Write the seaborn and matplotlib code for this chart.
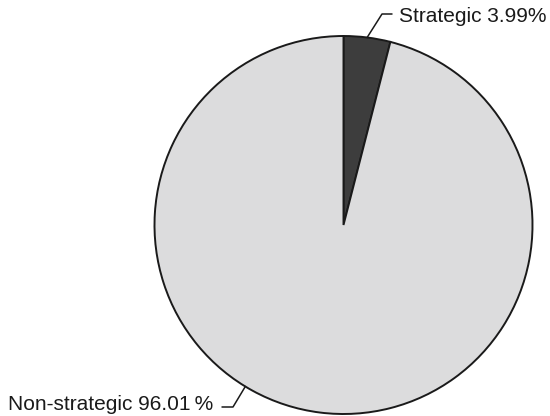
import matplotlib
matplotlib.use("Agg")
import matplotlib.pyplot as plt
import numpy as np
import seaborn as sns

# Shares of the two categories (percent)
categories = ["Strategic", "Non-strategic"]
shares = [3.99, 96.01]
labels = ["Strategic 3.99%", "Non-strategic 96.01\u2009%"]

sns.set_style("white")
plt.rcParams["font.family"] = ["Liberation Sans", "DejaVu Sans"]

W, H = 550, 416
fig = plt.figure(figsize=(W / 100, H / 100), dpi=100)
ax = fig.add_axes([0, 0, 1, 1])

cx, cy, r = 343.5, H - 225, 189
colors = ["#3d3d3d", "#dcdcdd"]
wedges, _ = ax.pie(
    shares,
    colors=colors,
    startangle=90,
    counterclock=False,
    center=(cx, cy),
    radius=r,
    wedgeprops=dict(edgecolor="#1a1a1a", linewidth=1.4),
    frame=True,
)
ax.set_xlim(0, W)
ax.set_ylim(0, H)
ax.set_aspect("equal")
ax.axis("off")

def edge_point(angle_deg):
    a = np.deg2rad(angle_deg)
    return cx + r * np.cos(a), cy + r * np.sin(a)

# Strategic: leader from the wedge middle up to the label
mid = 90 - shares[0] * 3.6 / 2
x0, y0 = edge_point(mid)
ax.plot([x0, 382, 392], [y0, H - 14, H - 14], color="#1a1a1a", lw=1.1)
ax.text(399, H - 16, labels[0], fontsize=15, color="#1a1a1a",
        ha="left", va="center")

# Non-strategic: leader from lower-left rim down to the label
x1, y1 = edge_point(238.7)
ax.plot([x1, 233, 222], [y1, H - 407, H - 407], color="#1a1a1a", lw=1.1)
ax.text(213, H - 404, labels[1], fontsize=15, color="#1a1a1a",
        ha="right", va="center")

fig.savefig("out.png", dpi=100, facecolor="white")
